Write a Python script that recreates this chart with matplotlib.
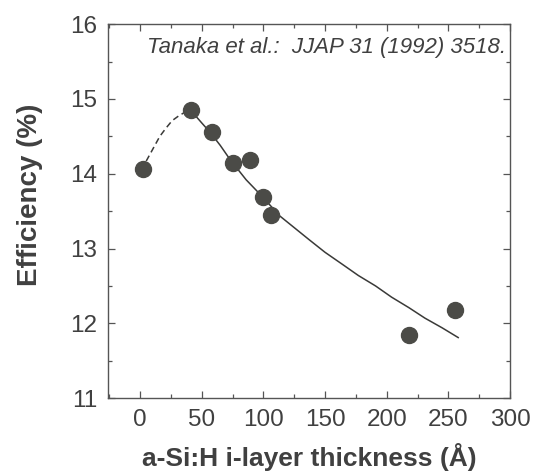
import matplotlib.pyplot as plt
from matplotlib.ticker import MultipleLocator

plt.rcParams['font.family'] = ['Liberation Sans', 'DejaVu Sans']

# measured points
thickness = [2, 41, 58, 75, 89, 100, 106, 218, 255]
efficiency = [14.06, 14.85, 14.56, 14.14, 14.18, 13.69, 13.45, 11.85, 12.18]

# guide line
dash_x = [5, 10, 16, 21, 26, 31, 36, 41]
dash_y = [14.17, 14.32, 14.50, 14.61, 14.71, 14.77, 14.82, 14.85]
fit_x = [41, 50, 57, 65, 73, 86, 100, 113, 125, 137, 150, 164, 177, 191, 204, 218, 231, 245, 258]
fit_y = [14.85, 14.68, 14.55, 14.38, 14.19, 13.92, 13.68, 13.44, 13.28, 13.12, 12.95, 12.79, 12.64, 12.50, 12.35, 12.21, 12.07, 11.94, 11.81]

ink = '#3a3a38'
fig = plt.figure(figsize=(5.36, 4.74), dpi=100)
ax = fig.add_axes([0.2015, 0.160, 0.750, 0.789])

ax.plot(dash_x, dash_y, color=ink, lw=1.1, ls=(0, (4, 2.5)))
ax.plot(fit_x, fit_y, color=ink, lw=1.1)
ax.plot(thickness, efficiency, 'o', color='#4b4b47', ms=11.5, mec='#4b4b47', zorder=3)

ax.set_xlim(-26, 300)
ax.set_ylim(11, 16)
ax.xaxis.set_major_locator(MultipleLocator(50))
ax.xaxis.set_minor_locator(MultipleLocator(25))
ax.yaxis.set_major_locator(MultipleLocator(1))
ax.yaxis.set_minor_locator(MultipleLocator(0.5))
ax.tick_params(which='both', direction='in', top=True, right=True, colors='#555555',
               labelcolor='#404040', labelsize=17.5, width=0.9)
ax.tick_params(which='major', length=5, pad=7.5)
ax.tick_params(which='minor', length=3)
for s in ax.spines.values():
    s.set_color('#555555')
    s.set_linewidth(1.0)

ax.set_xlabel('a-Si:H i-layer thickness (Å)', fontsize=19, fontweight='bold', color='#404040')
ax.set_ylabel('Efficiency (%)', fontsize=20, fontweight='bold', color='#404040')
ax.xaxis.set_label_coords(0.5, -0.12)
ax.yaxis.set_label_coords(-0.162, 0.543)
ax.text(0.99, 0.965, 'Tanaka et al.:  JJAP 31 (1992) 3518.', transform=ax.transAxes,
        ha='right', va='top', style='italic', fontsize=16, color='#404040')

fig.savefig('out.png', dpi=100)
